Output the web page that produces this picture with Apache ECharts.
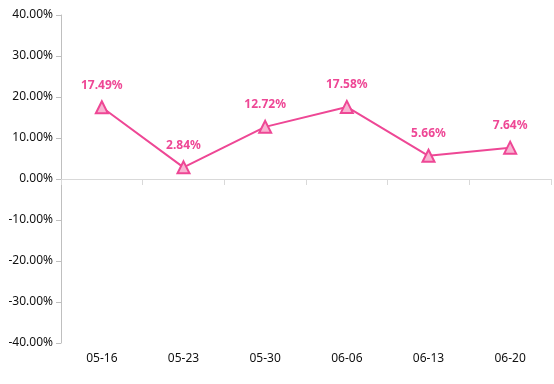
<!DOCTYPE html>
<html><head><meta charset="utf-8">
<script src="https://cdn.jsdelivr.net/npm/echarts@6/dist/echarts.min.js"></script>
<style>html,body{margin:0;padding:0;background:#fff}#c{width:554px;height:384px}</style>
</head><body><div id="c"></div>
<script>
const categories = ['05-16','05-23','05-30','06-06','06-13','06-20'];
const values = [17.49, 2.84, 12.72, 17.58, 5.66, 7.64];
const yTicks = {min: -40, max: 40, interval: 10};

const chart = echarts.init(document.getElementById('c'));
const pink = '#ee4795';
chart.setOption({
  animation: false,
  grid: {left: 61, right: 3, top: 15, bottom: 41},
  xAxis: [{
    type: 'category', data: categories, position: 'bottom',
    axisLine: {show: false, onZero: false}, axisTick: {show: false},
    axisLabel: {color: '#111', fontSize: 12, fontFamily: 'Noto Sans', margin: 10}
  }, {
    type: 'category', data: categories, position: 'bottom',
    axisLine: {show: true, onZero: true, lineStyle: {color: '#d9d9d9'}},
    axisTick: {show: true, length: 6, lineStyle: {color: '#d9d9d9'}},
    axisLabel: {show: false}
  }],
  yAxis: {
    type: 'value', min: yTicks.min, max: yTicks.max, interval: yTicks.interval,
    axisLine: {show: true, lineStyle: {color: '#bfbfbf'}},
    axisTick: {show: true, length: 5, lineStyle: {color: '#bfbfbf'}},
    splitLine: {show: false},
    axisLabel: {color: '#111', fontSize: 12, fontFamily: 'Noto Sans', margin: 8,
      formatter: v => v.toFixed(2) + '%'}
  },
  series: [{
    type: 'line', data: values, xAxisIndex: 0,
    symbol: 'triangle', symbolSize: 12,
    lineStyle: {color: pink, width: 2},
    itemStyle: {color: '#f8b4d2', borderColor: pink, borderWidth: 2},
    label: {show: true, position: 'top', distance: 9, color: pink, fontWeight: 'bold',
      fontSize: 12, fontFamily: 'Noto Sans', formatter: p => p.value.toFixed(2) + '%'}
  }]
});
</script></body></html>
